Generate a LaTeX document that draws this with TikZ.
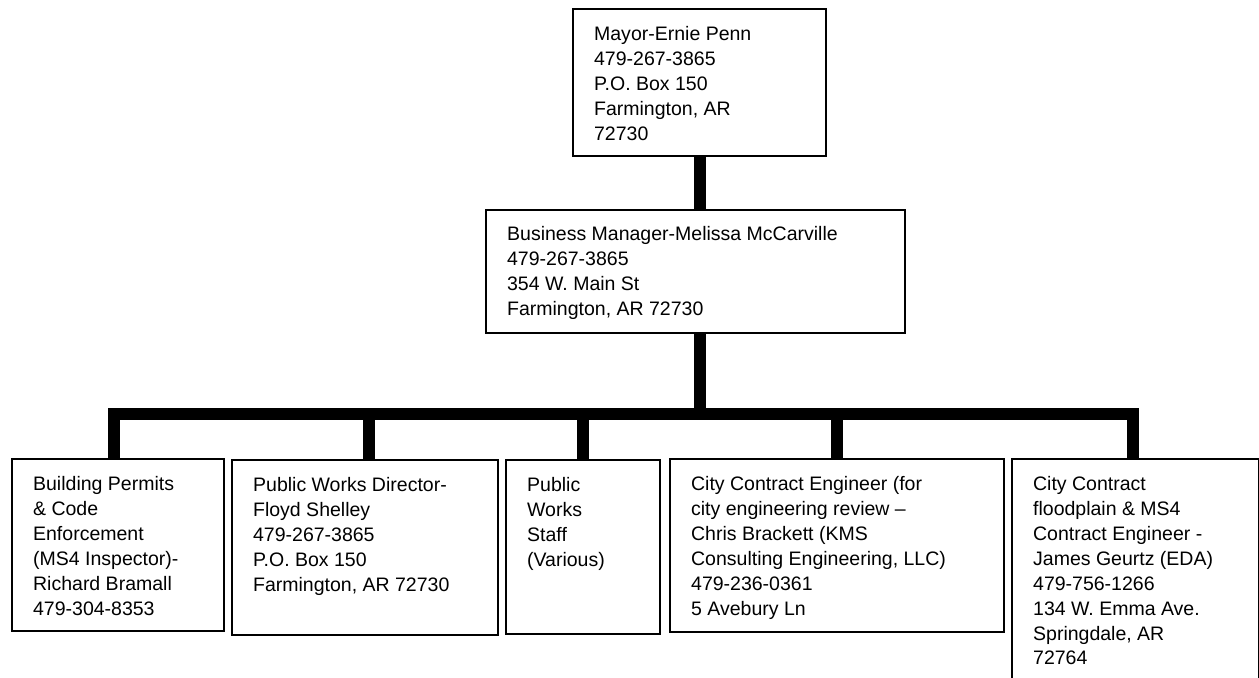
\documentclass[tikz,border=0pt]{standalone}
\usepackage{fontspec}
\setmainfont{Liberation Sans}
\usetikzlibrary{positioning, calc}

\newcommand{\unittext}[3]{\parbox[c][#2][t]{#1}{\raggedright #3}}

\begin{document}
\begin{tikzpicture}[
        unit/.style={draw, line width=1.3pt, rectangle, anchor=north west, inner xsep=0.42cm, inner ysep=0.34cm, font=\fontsize{11.1}{14.2}\selectfont},
        link/.style={line width=0.24cm, line join=miter}
    ]
            \useasboundingbox (0,0) rectangle (25.18,-13.54);
            % top of the chart
            \node[unit] (mayor) at (11.44,-0.16) {\unittext{4.22cm}{2.26cm}{Mayor-Ernie Penn\\479-267-3865\\P.O. Box 150\\Farmington, AR\\72730}};
            \node[unit, inner ysep=0.32cm] (biz) at (9.70,-4.18) {\unittext{7.54cm}{1.82cm}{Business Manager-Melissa McCarville\\479-267-3865\\354 W. Main St\\Farmington, AR 72730}};
            % second row
            \node[unit] (bldg) at (0.22,-9.16) {\unittext{3.40cm}{2.76cm}{Building Permits\\\& Code\\Enforcement\\(MS4 Inspector)-\\Richard Bramall\\479-304-8353}};
            \node[unit] (pwd) at (4.62,-9.18) {\unittext{4.48cm}{2.82cm}{Public Works Director-\\Floyd Shelley\\479-267-3865\\P.O. Box 150\\Farmington, AR 72730}};
            \node[unit] (staff) at (10.10,-9.18) {\unittext{2.24cm}{2.80cm}{Public\\Works\\Staff\\(Various)}};
            \node[unit] (eng) at (13.38,-9.16) {\unittext{5.84cm}{2.78cm}{City Contract Engineer (for\\city engineering review --\\Chris Brackett (KMS\\Consulting Engineering, LLC)\\479-236-0361\\5 Avebury Ln}};
            \node[unit] (flood) at (20.22,-9.16) {\unittext{4.10cm}{4.40cm}{City Contract\\floodplain \& MS4\\Contract Engineer -\\James Geurtz (EDA)\\479-756-1266\\134 W. Emma Ave.\\Springdale, AR\\72764}};
            % connectors
            \coordinate (bus) at (0,-8.28);
            \coordinate (floodtop) at ([xshift=2.44cm]flood.north west);
            \draw[link] (mayor.south) -- (mayor.south |- biz.north);
            \draw[link] (mayor.south |- biz.south) -- (mayor.south |- bus);
            \draw[link] ([xshift=-0.08cm]bldg.north) -- ([xshift=-0.08cm]bldg.north |- bus) -- (floodtop |- bus) -- (floodtop);
            \draw[link] ([xshift=0.08cm]pwd.north |- bus) -- ([xshift=0.08cm]pwd.north);
            \draw[link] (staff.north |- bus) -- (staff.north);
            \draw[link] (eng.north |- bus) -- (eng.north);
        \end{tikzpicture}
\end{document}
